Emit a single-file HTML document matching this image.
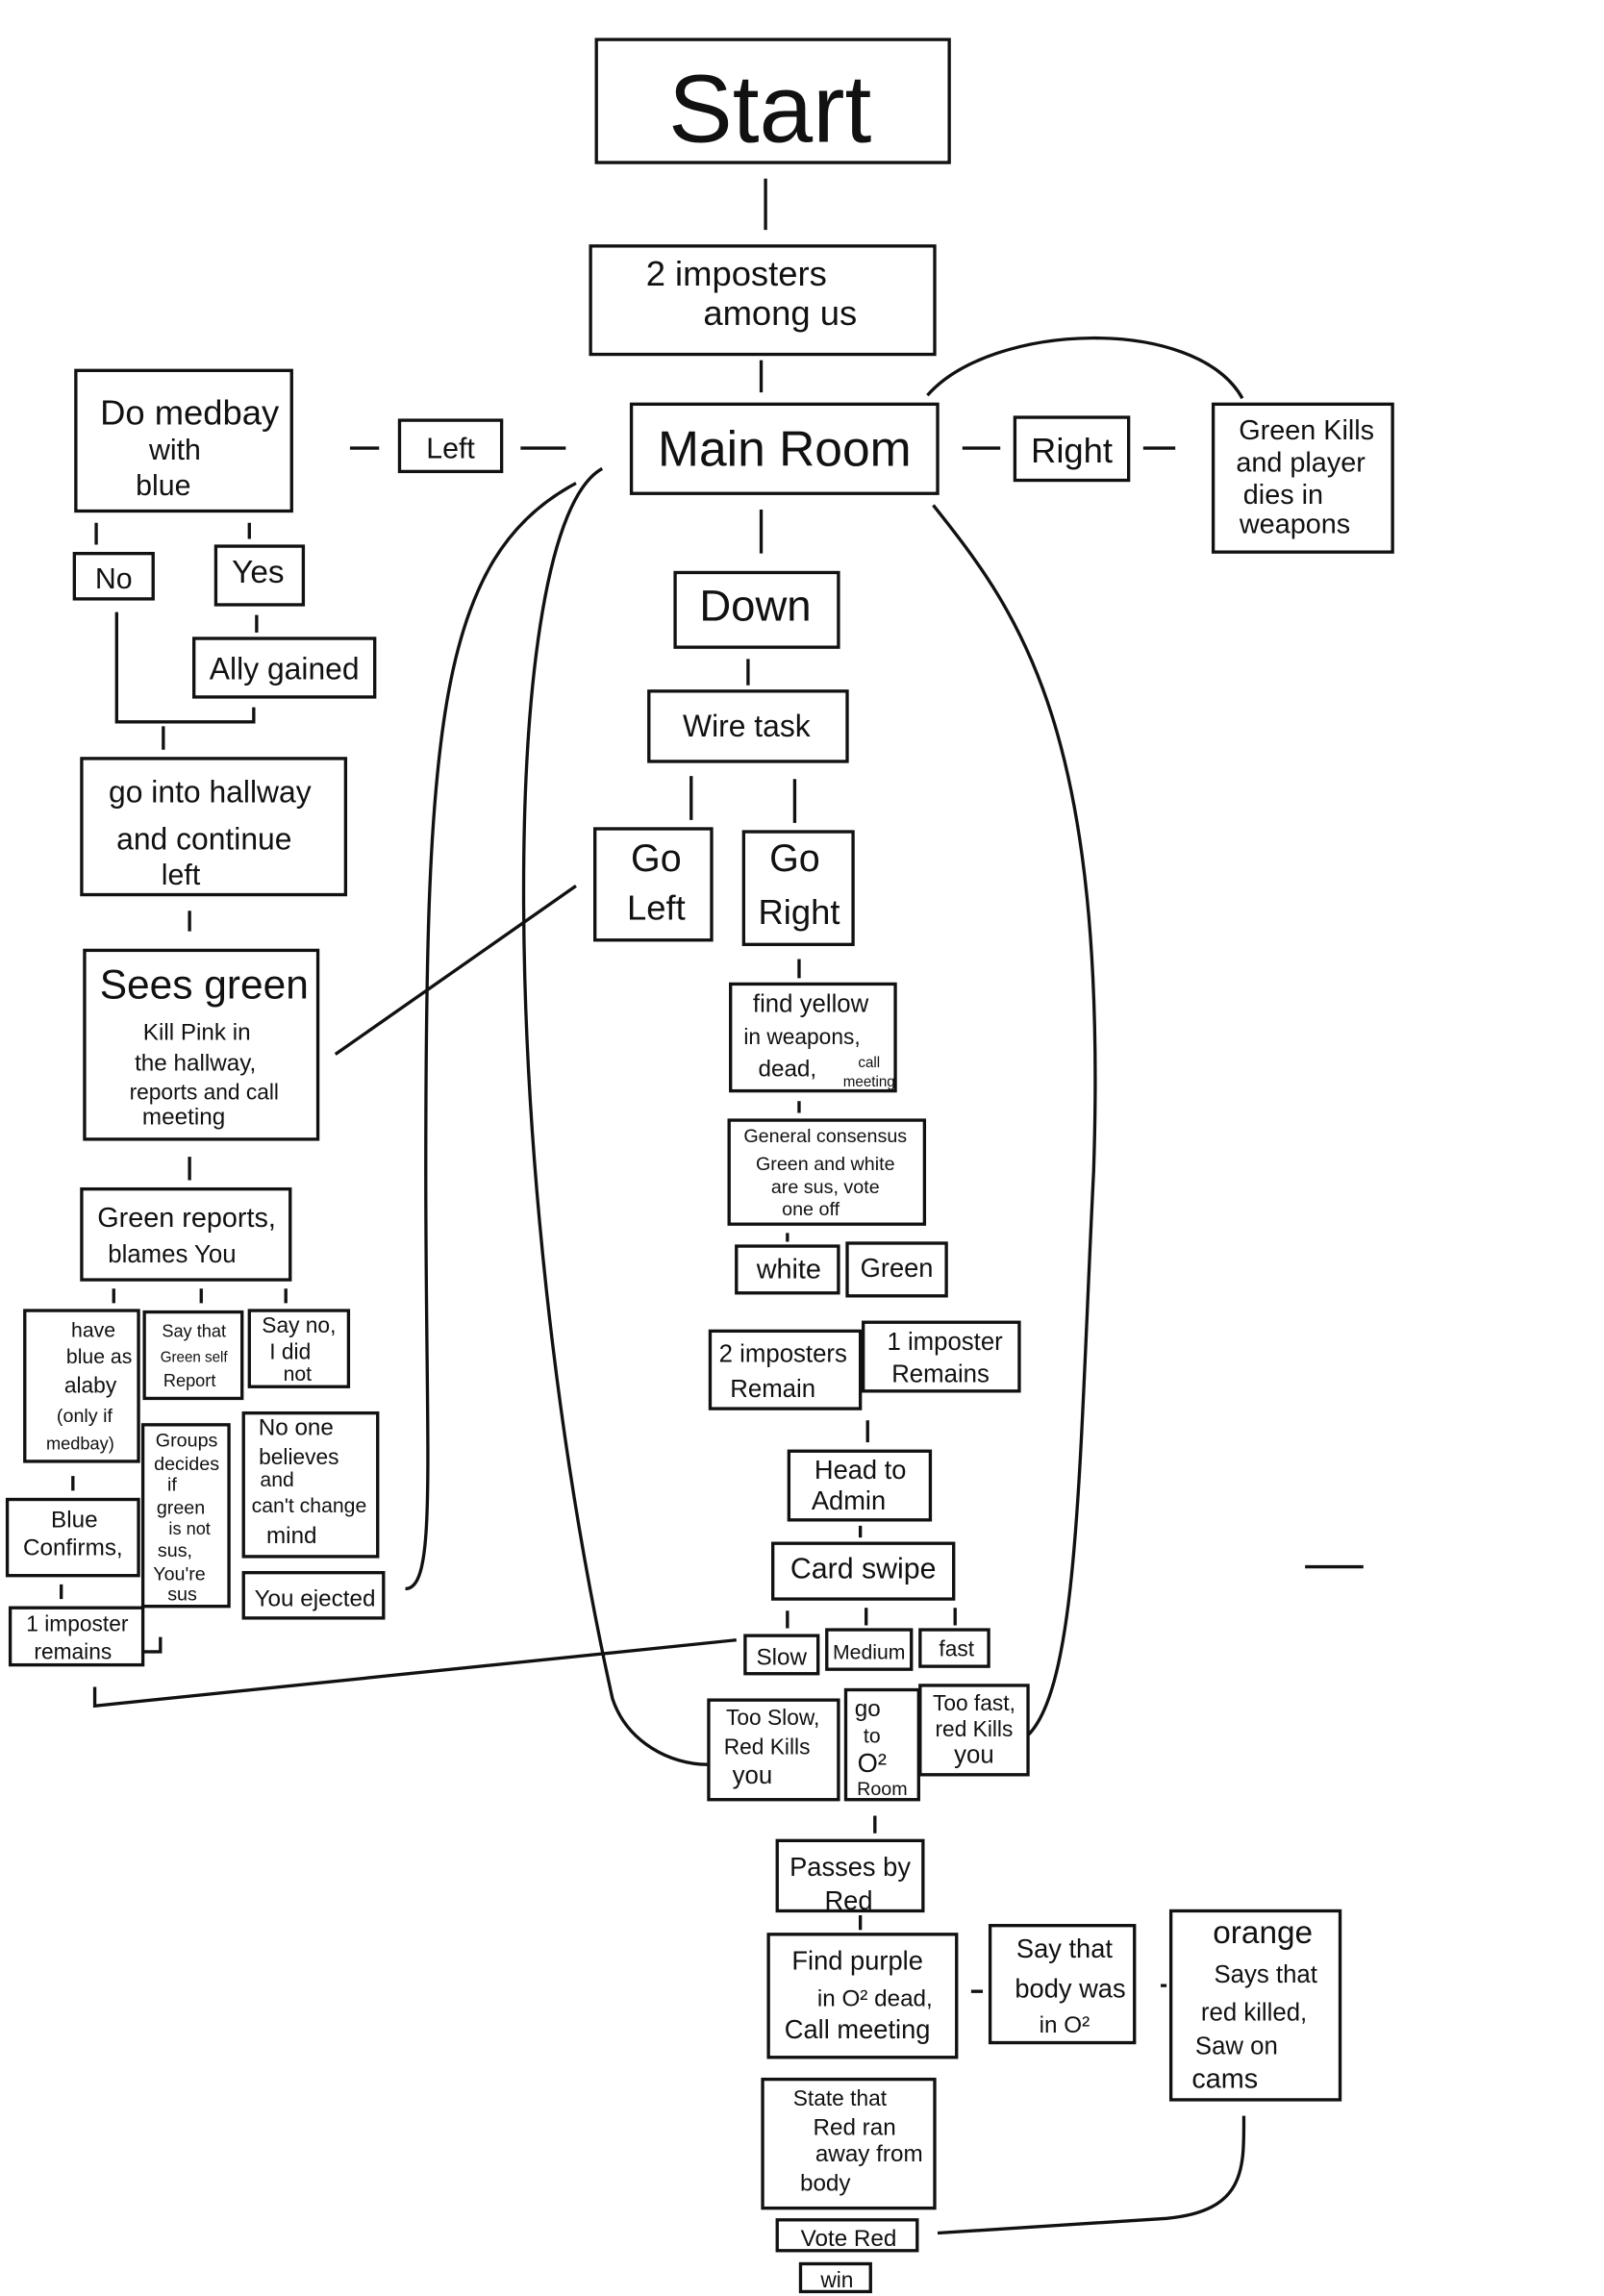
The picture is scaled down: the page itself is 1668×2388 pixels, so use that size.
<!DOCTYPE html>
<html><head><meta charset="utf-8"><style>
html,body{margin:0;padding:0;background:#fff;}
svg{display:block;}
text{font-family:"Liberation Sans",sans-serif;fill:#111;}
</style></head><body>
<svg width="1668" height="2388" viewBox="0 0 1100 1568" preserveAspectRatio="none" xmlns="http://www.w3.org/2000/svg">
<g fill="none" stroke="#111" stroke-width="2.2">
<rect x="409" y="27" width="242" height="84"/>
<rect x="405" y="168" width="236" height="74"/>
<rect x="433" y="276" width="210" height="61"/>
<rect x="274" y="287" width="70" height="35"/>
<rect x="696" y="285" width="78" height="43"/>
<rect x="52" y="253" width="148" height="96"/>
<rect x="832" y="276" width="123" height="101"/>
<rect x="463" y="391" width="112" height="51"/>
<rect x="445" y="472" width="136" height="48"/>
<rect x="408" y="566" width="80" height="76"/>
<rect x="510" y="568" width="75" height="77"/>
<rect x="51" y="378" width="54" height="31"/>
<rect x="148" y="373" width="60" height="40"/>
<rect x="133" y="436" width="124" height="40"/>
<rect x="56" y="518" width="181" height="93"/>
<rect x="58" y="649" width="160" height="129"/>
<rect x="56" y="812" width="143" height="62"/>
<rect x="17" y="895" width="78" height="103"/>
<rect x="99" y="896" width="67" height="59"/>
<rect x="171" y="895" width="68" height="52"/>
<rect x="5" y="1024" width="90" height="52"/>
<rect x="98" y="973" width="59" height="124"/>
<rect x="167" y="965" width="92" height="98"/>
<rect x="167" y="1074" width="96" height="31"/>
<rect x="7" y="1098" width="91" height="39"/>
<rect x="501" y="672" width="113" height="73"/>
<rect x="500" y="765" width="134" height="71"/>
<rect x="505" y="851" width="70" height="32"/>
<rect x="581" y="849" width="68" height="36"/>
<rect x="487" y="909" width="103" height="53"/>
<rect x="592" y="903" width="107" height="47"/>
<rect x="541" y="991" width="97" height="47"/>
<rect x="530" y="1054" width="124" height="38"/>
<rect x="511" y="1117" width="50" height="26"/>
<rect x="567" y="1113" width="58" height="27"/>
<rect x="631" y="1113" width="47" height="25"/>
<rect x="486" y="1161" width="89" height="68"/>
<rect x="580" y="1154" width="50" height="75"/>
<rect x="631" y="1151" width="74" height="61"/>
<rect x="533" y="1257" width="100" height="48"/>
<rect x="527" y="1321" width="129" height="84"/>
<rect x="679" y="1315" width="99" height="80"/>
<rect x="803" y="1305" width="116" height="129"/>
<rect x="523" y="1420" width="118" height="88"/>
<rect x="533" y="1516" width="96" height="21"/>
<rect x="549" y="1546" width="48" height="19"/>
<!-- connectors -->
<path d="M525 122V157M522 246V268M522 348V378M513 450V468M474 530V560M545 532V562M548 655V668M548 752V760M540 842V848M595 970V985M590 1042V1050M540 1100V1112M594 1098V1110M655 1098V1110M600 1240V1252M590 1308V1318M240 306H260M357 306H388M660 306H686M784 306H806M66 357V372M171 357V368M176 420V432M80 418V493H174V483M112 496V512M130 622V636M130 790V806M78 880V890M138 880V890M196 880V890M50 1008V1018M42 1082V1092M110 1118V1128H98M666 1360H674M796 1356H800"/>
<path d="M636 270C680 220 820 215 852 272"/>
<path d="M413 320C340 360 340 800 420 1160C430 1190 460 1205 485 1205"/>
<path d="M640 345C700 420 760 500 750 800C740 1000 740 1150 705 1185"/>
<path d="M230 720L395 605"/>
<path d="M278 1085C300 1085 292 1000 292 800C292 500 300 380 395 330"/>
<path d="M65 1152V1165L505 1120"/>
<path d="M853 1445C853 1480 855 1510 800 1515L643 1525"/>
<path d="M895 1070H935"/>
</g>
<g text-anchor="middle">
<text x="528" y="97" font-size="66">Start</text>
<text x="505" y="195" font-size="24">2 imposters</text>
<text x="535" y="222" font-size="24">among us</text>
<text x="538" y="318" font-size="34">Main Room</text>
<text x="309" y="313" font-size="20">Left</text>
<text x="735" y="316" font-size="24">Right</text>
<text x="130" y="290" font-size="24">Do medbay</text>
<text x="120" y="314" font-size="20">with</text>
<text x="112" y="338" font-size="20">blue</text>
<text x="896" y="300" font-size="19">Green Kills</text>
<text x="892" y="322" font-size="19">and player</text>
<text x="880" y="344" font-size="19">dies in</text>
<text x="888" y="364" font-size="19">weapons</text>
<text x="518" y="424" font-size="30">Down</text>
<text x="512" y="503" font-size="21">Wire task</text>
<text x="450" y="595" font-size="26">Go</text>
<text x="450" y="628" font-size="24">Left</text>
<text x="545" y="595" font-size="26">Go</text>
<text x="548" y="631" font-size="24">Right</text>
<text x="78" y="402" font-size="20">No</text>
<text x="177" y="398" font-size="22">Yes</text>
<text x="195" y="464" font-size="21">Ally gained</text>
<text x="144" y="548" font-size="21">go into hallway</text>
<text x="140" y="580" font-size="21">and continue</text>
<text x="124" y="604" font-size="20">left</text>
<text x="140" y="682" font-size="28">Sees green</text>
<text x="135" y="710" font-size="16">Kill Pink in</text>
<text x="134" y="731" font-size="16">the hallway,</text>
<text x="140" y="751" font-size="15">reports and call</text>
<text x="126" y="768" font-size="16">meeting</text>
<text x="128" y="838" font-size="19">Green reports,</text>
<text x="118" y="862" font-size="17">blames You</text>
<text x="64" y="913" font-size="14">have</text>
<text x="68" y="931" font-size="14">blue as</text>
<text x="62" y="951" font-size="15">alaby</text>
<text x="58" y="971" font-size="13">(only if</text>
<text x="55" y="990" font-size="12">medbay)</text>
<text x="133" y="913" font-size="12">Say that</text>
<text x="133" y="930" font-size="10">Green self</text>
<text x="130" y="947" font-size="12">Report</text>
<text x="205" y="910" font-size="15">Say no,</text>
<text x="199" y="928" font-size="15">I did</text>
<text x="204" y="943" font-size="14">not</text>
<text x="51" y="1043" font-size="16">Blue</text>
<text x="50" y="1062" font-size="16">Confirms,</text>
<text x="128" y="988" font-size="13">Groups</text>
<text x="128" y="1004" font-size="13">decides</text>
<text x="118" y="1018" font-size="13">if</text>
<text x="124" y="1034" font-size="13">green</text>
<text x="130" y="1048" font-size="12">is not</text>
<text x="120" y="1063" font-size="13">sus,</text>
<text x="123" y="1079" font-size="13">You're</text>
<text x="125" y="1093" font-size="13">sus</text>
<text x="203" y="980" font-size="16">No one</text>
<text x="205" y="1000" font-size="15">believes</text>
<text x="190" y="1015" font-size="14">and</text>
<text x="212" y="1033" font-size="14">can't change</text>
<text x="200" y="1054" font-size="16">mind</text>
<text x="216" y="1097" font-size="16">You ejected</text>
<text x="53" y="1114" font-size="15">1 imposter</text>
<text x="50" y="1133" font-size="15">remains</text>
<text x="556" y="691" font-size="17">find yellow</text>
<text x="550" y="713" font-size="15">in weapons,</text>
<text x="540" y="735" font-size="16">dead,</text>
<text x="596" y="729" font-size="10">call</text>
<text x="596" y="742" font-size="10">meeting</text>
<text x="566" y="780" font-size="13">General consensus</text>
<text x="566" y="799" font-size="13">Green and white</text>
<text x="566" y="815" font-size="13">are sus, vote</text>
<text x="556" y="830" font-size="13">one off</text>
<text x="541" y="873" font-size="19">white</text>
<text x="615" y="872" font-size="18">Green</text>
<text x="537" y="930" font-size="17">2 imposters</text>
<text x="530" y="954" font-size="17">Remain</text>
<text x="648" y="922" font-size="17">1 imposter</text>
<text x="645" y="944" font-size="17">Remains</text>
<text x="590" y="1010" font-size="18">Head to</text>
<text x="582" y="1031" font-size="18">Admin</text>
<text x="592" y="1078" font-size="20">Card swipe</text>
<text x="536" y="1137" font-size="16">Slow</text>
<text x="596" y="1133" font-size="14">Medium</text>
<text x="656" y="1131" font-size="15">fast</text>
<text x="530" y="1178" font-size="15">Too Slow,</text>
<text x="526" y="1198" font-size="15">Red Kills</text>
<text x="516" y="1218" font-size="17">you</text>
<text x="595" y="1172" font-size="16">go</text>
<text x="598" y="1190" font-size="14">to</text>
<text x="598" y="1210" font-size="18">O²</text>
<text x="605" y="1226" font-size="13">Room</text>
<text x="668" y="1168" font-size="15">Too fast,</text>
<text x="668" y="1186" font-size="15">red Kills</text>
<text x="668" y="1204" font-size="17">you</text>
<text x="583" y="1281" font-size="18">Passes by</text>
<text x="582" y="1304" font-size="18">Red</text>
<text x="588" y="1345" font-size="18">Find purple</text>
<text x="600" y="1370" font-size="16">in O² dead,</text>
<text x="588" y="1392" font-size="18">Call meeting</text>
<text x="730" y="1337" font-size="18">Say that</text>
<text x="734" y="1364" font-size="18">body was</text>
<text x="730" y="1388" font-size="16">in O²</text>
<text x="866" y="1327" font-size="22">orange</text>
<text x="868" y="1354" font-size="17">Says that</text>
<text x="860" y="1380" font-size="17">red killed,</text>
<text x="848" y="1403" font-size="17">Saw on</text>
<text x="840" y="1426" font-size="19">cams</text>
<text x="576" y="1438" font-size="15">State that</text>
<text x="586" y="1458" font-size="16">Red ran</text>
<text x="596" y="1476" font-size="16">away from</text>
<text x="566" y="1496" font-size="16">body</text>
<text x="582" y="1534" font-size="16">Vote Red</text>
<text x="574" y="1562" font-size="15">win</text>
</g>
</svg>
</body></html>
